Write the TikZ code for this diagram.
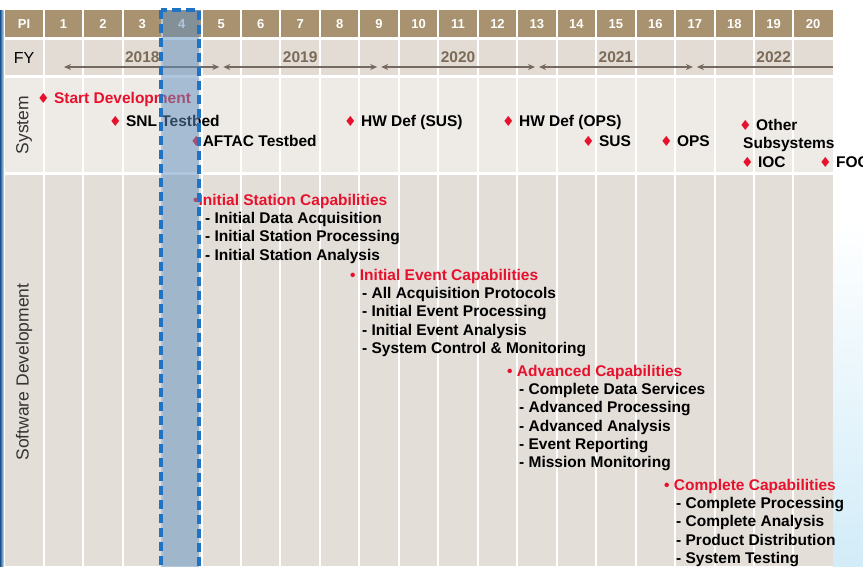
\documentclass[tikz,border=0pt]{standalone}
\usepackage{fontspec}
\setmainfont{Liberation Sans}
\newfontfamily\symfont{DejaVu Sans}
\usetikzlibrary{arrows.meta,positioning}
\definecolor{headtan}{HTML}{A8926F}
\definecolor{fyrow}{HTML}{E2DCD4}
\definecolor{sysrow}{HTML}{EEEBE6}
\definecolor{swrow}{HTML}{E3DED8}
\definecolor{arrowgray}{HTML}{76695F}
\definecolor{yearbrown}{HTML}{7B6B58}
\definecolor{labelgray}{HTML}{333333}
\definecolor{milered}{HTML}{E8112D}
\definecolor{dashblue}{HTML}{1F72C4}
\definecolor{boxblue}{HTML}{5F8FBF}
\definecolor{slideblue}{HTML}{D2ECF8}
\def\dm{{\symfont\color{milered}\fontsize{14}{14}\selectfont ♦}}
\def\bul{{\color{milered}\textbullet}}

\begin{document}
\begin{tikzpicture}[x=1pt,y=-1pt,>={Stealth[length=7pt,width=6pt]},
	headnum/.style={font=\bfseries\fontsize{13}{13}\selectfont, text=white, inner sep=0pt},
	rowlabel/.style={font=\fontsize{17.5}{17.5}\selectfont, text=labelgray, rotate=90, inner sep=0pt},
	yearlbl/.style={font=\bfseries\fontsize{15.5}{15.5}\selectfont, text=yearbrown, inner sep=0pt},
	fyarrow/.style={line width=2pt, draw=arrowgray},
	milestone/.style={font=\bfseries\fontsize{15.5}{15.5}\selectfont, anchor=west, inner sep=0pt, text height=11pt, text depth=0pt},
	captitle/.style={milestone, text=milered},
	capitem/.style={milestone}]
			%%%%% START %%%%%
			\useasboundingbox (0,0) rectangle (863,566);
			\fill[white] (0,0) rectangle (863,566);
			\shade[top color=white, bottom color=slideblue] (833,220) rectangle (863,566);
			\shade[left color=dashblue!70!black, right color=dashblue!30] (0,10) rectangle (3.5,566);
			
			% row bands
			\fill[headtan] (5,10) rectangle (833,37);
			\fill[fyrow] (5,40) rectangle (833,75);
			\fill[sysrow] (5,78) rectangle (833,172);
			\fill[swrow] (5,175) rectangle (833,566);
			
			% column separators
			\foreach \k in {0,...,19}
				\draw[white, line width=2pt] ({43.7+39.46*\k},10) -- ({43.7+39.46*\k},566);
			
			% header
			\node[headnum] (pi) at (24,24) {PI};
			\foreach \i in {1,...,20}
				\node[headnum] (pi\i) at ({43.7+39.46*(\i-0.5)},24) {\i};
			
			% fiscal years
			\node[font=\fontsize{16}{16}\selectfont, inner sep=0pt] (fy) at (24,58) {FY};
			\foreach \yr/\c in {2018/3, 2019/7, 2020/11, 2021/15, 2022/19}
				\node[yearlbl] (fy\yr) at ({43.7+39.46*(\c-0.5)},57) {\yr};
			\coordinate (b0) at (64,67);
			\coordinate (b1) at (221.3,67);
			\coordinate (b2) at (379.2,67);
			\coordinate (b3) at (537.0,67);
			\coordinate (b4) at (694.9,67);
			\coordinate (b5) at (833,67);
			\draw[fyarrow,<->] (b0) -- ([xshift=-2pt]b1);
			\draw[fyarrow,<->] ([xshift=2pt]b1) -- ([xshift=-2pt]b2);
			\draw[fyarrow,<->] ([xshift=2pt]b2) -- ([xshift=-2pt]b3);
			\draw[fyarrow,<->] ([xshift=2pt]b3) -- ([xshift=-2pt]b4);
			\draw[fyarrow,<-] ([xshift=2pt]b4) -- (b5);
			
			% row labels
			\node[rowlabel] (sys) at (24,125) {System};
			\node[rowlabel] (swdev) at (24,372) {Software Development};
			
			% system milestones
			\node[milestone, text=milered] (start) at (37,98) {\dm\ Start Development};
			\node[milestone] (snl) at (109,121) {\dm\ SNL Testbed};
			\node[milestone] (aftac) at (190,141) {\dm AFTAC Testbed};
			\node[milestone] (hwsus) at (344,121) {\dm\ HW Def (SUS)};
			\node[milestone] (hwops) at (502,121) {\dm\ HW Def (OPS)};
			\node[milestone] (sus) at (582,141) {\dm\ SUS};
			\node[milestone] (ops) at (660,141) {\dm\ OPS};
			\node[milestone] (other) at (739,125) {\dm\ Other};
			\node[milestone] (subsys) at (743,143) {Subsystems};
			\node[milestone] (ioc) at (741,162) {\dm\ IOC};
			\node[milestone] (foc) at (819,162) {\dm\ FOC};
			
			% software capabilities
			\node[captitle] (cap1) at (193,200) {\bul Initial Station Capabilities};
			\foreach \t [count=\k] in {Initial Data Acquisition, Initial Station Processing, Initial Station Analysis}
				\node[capitem] (cap1-\k) at (205,{200+18.2*\k}) {- \t};
			\node[captitle] (cap2) at (350,275) {\bul\ Initial Event Capabilities};
			\foreach \t [count=\k] in {All Acquisition Protocols, Initial Event Processing, Initial Event Analysis, System Control \& Monitoring}
				\node[capitem] (cap2-\k) at (362,{275+18.2*\k}) {- \t};
			\node[captitle] (cap3) at (507,371) {\bul\ Advanced Capabilities};
			\foreach \t [count=\k] in {Complete Data Services, Advanced Processing, Advanced Analysis, Event Reporting, Mission Monitoring}
				\node[capitem] (cap3-\k) at (519,{371+18.2*\k}) {- \t};
			\node[captitle] (cap4) at (664,485) {\bul\ Complete Capabilities};
			\foreach \t [count=\k] in {Complete Processing, Complete Analysis, Product Distribution, System Testing}
				\node[capitem] (cap4-\k) at (676,{485+18.2*\k}) {- \t};
			
			% current PI marker
			\draw[dashblue, fill=boxblue, fill opacity=0.5, line width=4pt, dash pattern=on 9pt off 5pt] (161,10) rectangle (199,570);
			%%%%% END %%%%%
		\end{tikzpicture}
\end{document}
